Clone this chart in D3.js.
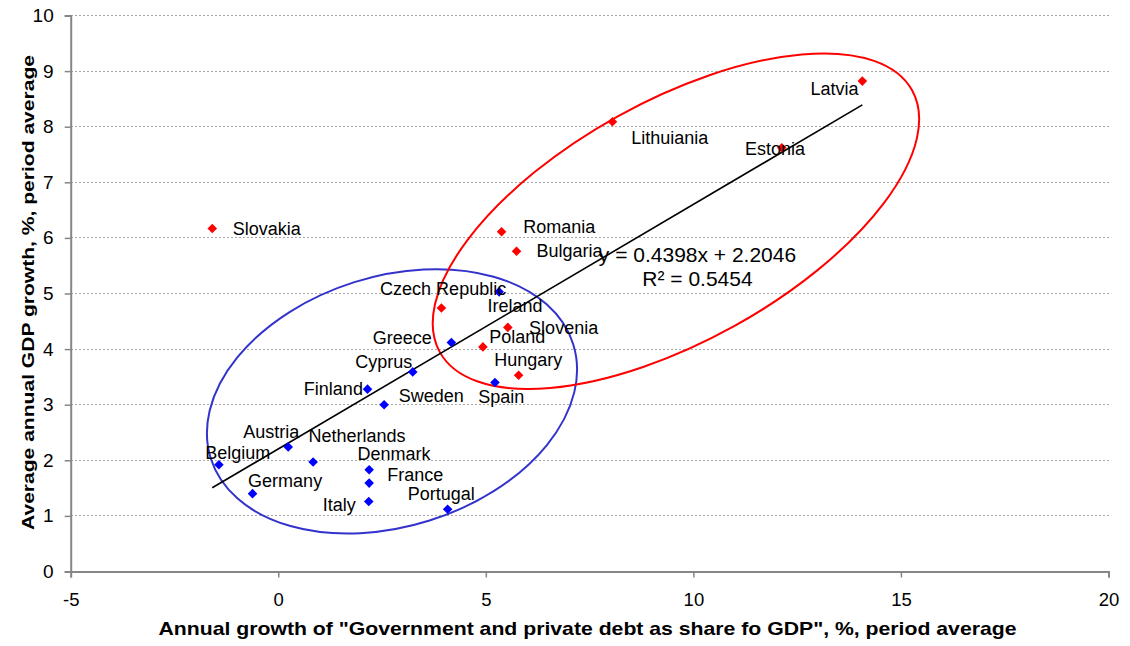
<!DOCTYPE html>
<html><head><meta charset="utf-8">
<script src="https://cdn.jsdelivr.net/npm/d3@7"></script>
<style>
html,body{margin:0;padding:0;background:#fff;}
svg{display:block;font-family:"Liberation Sans",Arial,sans-serif;}
</style>
</head><body>
<svg id="chart" width="1130" height="646"></svg>
<script>
// ---------- DATA ----------
const countries = ["Slovakia","Latvia","Lithuiania","Estonia","Romania","Bulgaria","Czech Republic","Slovenia","Poland","Hungary",
  "Ireland","Greece","Cyprus","Finland","Sweden","Spain","Austria","Belgium","Netherlands","Denmark","France","Italy","Germany","Portugal"];
const debtGrowth = [-1.59,14.07,8.05,12.13,5.38,5.74,3.93,5.53,4.93,5.79,
  5.32,4.17,3.24,2.15,2.55,5.22,0.24,-1.43,0.84,2.19,2.19,2.18,-0.62,4.08];
const gdpGrowth = [6.17,8.82,8.09,7.62,6.11,5.76,4.74,4.39,4.04,3.53,
  5.03,4.12,3.59,3.28,3.00,3.40,2.24,1.92,1.97,1.83,1.59,1.26,1.40,1.12];
const groups = ["new","new","new","new","new","new","new","new","new","new",
  "old","old","old","old","old","old","old","old","old","old","old","old","old","old"];
const xTicks = [-5,0,5,10,15,20];
const yTicks = [0,1,2,3,4,5,6,7,8,9,10];
const trendSlope = 0.4398, trendIntercept = 2.2046;
const equationText = "y = 0.4398x + 2.2046";
const r2Text = "R\u00b2 = 0.5454";
const xTitle = "Annual growth of \"Government and private debt as share fo GDP\", %, period average";
const yTitle = "Average annual GDP growth, %, period average";
// ellipse annotation centres in data units
const ellipseGroups = ["old","new"];
const ellipseCx = [2.74, 9.58];
const ellipseCy = [3.06, 6.30];

// ---------- LAYOUT / STYLE ----------
const colors = {new:"#FF0000", old:"#0000FF"};
const ellipseColors = {new:"#FF0000", old:"#3333CC"};
const ellipseShape = {old:{rx:190, ry:125, rot:-17.5}, new:{rx:270, ry:120, rot:-29}};
const labelPos = {
  "Slovakia":{dx:20.4,dy:0.5,a:"start"},
  "Latvia":{dx:-3.7,dy:8.3,a:"end"},
  "Lithuiania":{dx:18.7,dy:16,a:"start"},
  "Estonia":{dx:-36.7,dy:1.6,a:"start"},
  "Romania":{dx:21.6,dy:-4.4,a:"start"},
  "Bulgaria":{dx:20,dy:0,a:"start"},
  "Czech Republic":{dx:-61.3,dy:-19.4,a:"start"},
  "Slovenia":{dx:21.3,dy:0.2,a:"start"},
  "Poland":{dx:6.3,dy:-10.3,a:"start"},
  "Hungary":{dx:-24.4,dy:-15.3,a:"start"},
  "Ireland":{dx:-11.7,dy:13.8,a:"start"},
  "Greece":{dx:-19.6,dy:-4.5,a:"end"},
  "Cyprus":{dx:-0.4,dy:-10,a:"end"},
  "Finland":{dx:-4.6,dy:0,a:"end"},
  "Sweden":{dx:14.7,dy:-8.4,a:"start"},
  "Spain":{dx:-16.7,dy:14.9,a:"start"},
  "Austria":{dx:-45,dy:-14.5,a:"start"},
  "Belgium":{dx:-13.7,dy:-12.2,a:"start"},
  "Netherlands":{dx:-4.7,dy:-25.7,a:"start"},
  "Denmark":{dx:-11.6,dy:-15.8,a:"start"},
  "France":{dx:18,dy:-7.7,a:"start"},
  "Germany":{dx:-4.4,dy:-12.4,a:"start"},
  "Portugal":{dx:-40,dy:-14.8,a:"start"},
  "Italy":{dx:-13,dy:4,a:"end"}
};
const plot = {left:70.7, right:1108.5, top:15.5, bottom:571.5};
const axisColor = "#868686";

const svg = d3.select("#chart");
const x = d3.scaleLinear().domain([-5,20]).range([plot.left, plot.right]);
const y = d3.scaleLinear().domain([0,10]).range([plot.bottom, plot.top]);

// gridlines
svg.append("g").selectAll("line").data(yTicks.filter(v=>v>0)).join("line")
  .attr("x1", plot.left).attr("x2", plot.right)
  .attr("y1", d=>y(d)).attr("y2", d=>y(d))
  .attr("stroke","#a6a6a6").attr("stroke-width",1).attr("stroke-dasharray","2,2")
  .attr("shape-rendering","crispEdges");

// y axis
const yAxis = d3.axisLeft(y).tickValues(yTicks).tickSize(6).tickPadding(10).tickFormat(d=>String(d));
const gy = svg.append("g").attr("transform",`translate(${plot.left},0)`).call(yAxis);
gy.select(".domain").attr("stroke",axisColor).attr("stroke-width",2);
gy.selectAll(".tick line").attr("stroke",axisColor).attr("stroke-width",1.5);
gy.selectAll(".tick text").attr("font-size","19px").attr("fill","#000")
  .attr("font-family","'Liberation Sans',Arial,sans-serif").attr("x",-17);

// x axis
const xAxis = d3.axisBottom(x).tickValues(xTicks).tickSize(6).tickPadding(10).tickFormat(d=>String(d));
const gx = svg.append("g").attr("transform",`translate(0,${plot.bottom})`).call(xAxis);
gx.select(".domain").attr("stroke",axisColor).attr("stroke-width",2);
gx.selectAll(".tick line").attr("stroke",axisColor).attr("stroke-width",1.5);
gx.selectAll(".tick text").attr("font-size","18.5px").attr("fill","#000")
  .attr("font-family","'Liberation Sans',Arial,sans-serif").attr("dy",null).attr("y",0)
  .attr("transform","translate(0,34)");

// axis titles
svg.append("text").attr("x",587.5).attr("y",635).attr("text-anchor","middle")
  .attr("font-weight","bold").attr("font-size","18.5px")
  .attr("textLength",858).attr("lengthAdjust","spacingAndGlyphs").text(xTitle);
svg.append("text").attr("transform","translate(33.5,292.5) rotate(-90)").attr("text-anchor","middle")
  .attr("font-weight","bold").attr("font-size","17px")
  .attr("textLength",475).attr("lengthAdjust","spacingAndGlyphs").text(yTitle);

// ellipses
svg.append("g").selectAll("ellipse").data(ellipseGroups).join("ellipse")
  .attr("cx",0).attr("cy",0)
  .attr("rx",d=>ellipseShape[d].rx).attr("ry",d=>ellipseShape[d].ry)
  .attr("transform",(d,i)=>`translate(${x(ellipseCx[i])},${y(ellipseCy[i])}) rotate(${ellipseShape[d].rot})`)
  .attr("fill","none").attr("stroke",d=>ellipseColors[d]).attr("stroke-width",2);

// trend line
const xmin = d3.min(debtGrowth), xmax = d3.max(debtGrowth);
svg.append("line")
  .attr("x1",x(xmin)).attr("y1",y(trendSlope*xmin+trendIntercept))
  .attr("x2",x(xmax)).attr("y2",y(trendSlope*xmax+trendIntercept))
  .attr("stroke","#000").attr("stroke-width",1.6);

// points
const pts = countries.map((c,i)=>({name:c, xv:debtGrowth[i], yv:gdpGrowth[i], g:groups[i]}));
const diamond = d3.symbol().type(d3.symbolSquare).size(46);
svg.append("g").selectAll("path").data(pts).join("path")
  .attr("d",diamond)
  .attr("transform",d=>`translate(${x(d.xv)},${y(d.yv)}) rotate(45)`)
  .attr("fill",d=>colors[d.g]);

// labels
svg.append("g").selectAll("text").data(pts).join("text")
  .attr("x",d=>x(d.xv)+labelPos[d.name].dx)
  .attr("y",d=>y(d.yv)+labelPos[d.name].dy)
  .attr("text-anchor",d=>labelPos[d.name].a)
  .attr("dominant-baseline","central")
  .attr("font-size","18px").attr("fill","#000")
  .text(d=>d.name);

// equation
svg.append("text").attr("x",697.5).attr("y",254.3).attr("text-anchor","middle")
  .attr("dominant-baseline","central").attr("font-size","21px").text(equationText);
svg.append("text").attr("x",697.5).attr("y",278.7).attr("text-anchor","middle")
  .attr("dominant-baseline","central").attr("font-size","21px").text(r2Text);
</script>
</body></html>
